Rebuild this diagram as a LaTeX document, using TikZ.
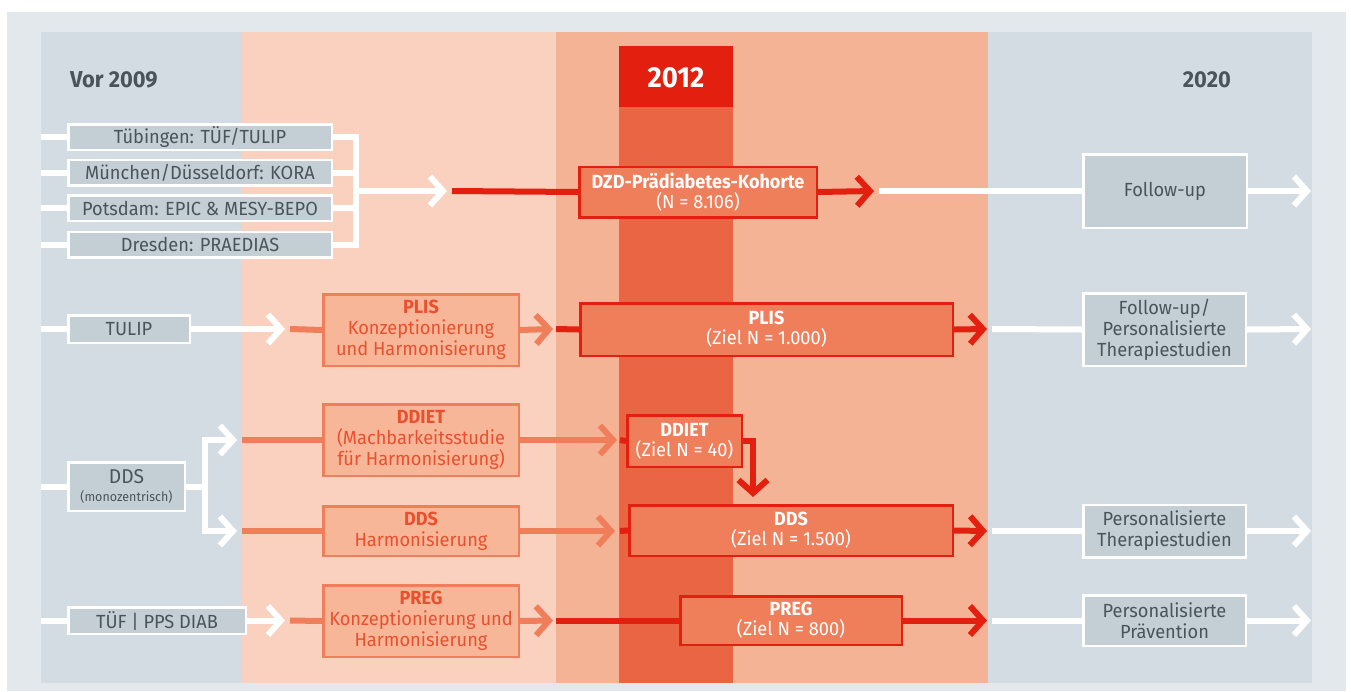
\documentclass[tikz,border=0pt]{standalone}
\usepackage{fontspec}
\setmainfont{Fira Sans}[FakeStretch=0.96, BoldFeatures={FakeStretch=0.95}]
\usetikzlibrary{arrows.meta}
\definecolor{outerbg}{HTML}{E2E8EB}
\definecolor{colgray}{HTML}{D3DCE2}
\definecolor{boxgray}{HTML}{C4CFD5}
\definecolor{txtgray}{HTML}{4B535B}
\definecolor{peachA}{HTML}{FAD1BE}
\definecolor{peachB}{HTML}{F5B396}
\definecolor{darkcol}{HTML}{EA6543}
\definecolor{hred}{HTML}{E3200F}
\definecolor{mainfill}{HTML}{EF7E5A}
\definecolor{prepfill}{HTML}{F8B699}
\definecolor{salmon}{HTML}{F07E5A}
\definecolor{preptext}{HTML}{E9502E}
\begin{document}
\begin{tikzpicture}[x=1pt,y=-1pt,
  every node/.style={font=\fontsize{19}{21}\selectfont, align=center, inner sep=0pt},
  sz/.style 2 args={minimum width=#1*1pt-2.5pt, minimum height=#2*1pt-2.5pt},
  graybox/.style={fill=boxgray, draw=white, line width=2.5pt, text=txtgray},
  prepbox/.style={fill=prepfill, draw=salmon, line width=2.5pt, text=preptext},
  mainbox/.style={fill=mainfill, draw=hred, line width=2.5pt, text=white, font=\fontsize{19}{20}\selectfont},
  chev/.style={-{Straight Barb[length=13pt,width=29pt]}},
  wline/.style={draw=white, line width=6pt},
  rline/.style={draw=hred, line width=6pt},
  sline/.style={draw=salmon, line width=6pt},
  year/.style={font=\fontsize{23}{26}\selectfont\bfseries, text=txtgray},
]
\useasboundingbox (0,0) rectangle (1351,691);
% backgrounds
\fill[white] (0,0) rectangle (1351,691);
\fill[outerbg] (7,12) rectangle (1346,691);
\fill[colgray] (41,32) rectangle (242,683);
\fill[peachA] (242,32) rectangle (556,683);
\fill[peachB] (556,32) rectangle (988,683);
\fill[colgray] (988,32) rectangle (1312,683);
\fill[darkcol] (619,107) rectangle (733,683);
\fill[hred] (619,46) rectangle (733,107);

% titles
\node[year, anchor=base west] (vor) at (70,87) {Vor 2009};
\node[year, anchor=base east] (y2020) at (1231,87) {2020};
\node[font=\fontsize{29}{32}\selectfont\bfseries, text=white] (y2012) at (676,78) {2012};

% row 1 boxes
\node[graybox, sz={266}{28}] (tub) at (200,137) {Tübingen: TÜF/TULIP};
\node[graybox, sz={266}{28}] (mun) at (200,172.5) {München/Düsseldorf: KORA};
\node[graybox, sz={266}{28}] (pot) at (200,208) {Potsdam: EPIC \& MESY-BEPO};
\node[graybox, sz={266}{28}] (dre) at (200,244.5) {Dresden: PRAEDIAS};
\node[mainbox, sz={240}{53}] (dzd) at (698,192) {\textbf{DZD-Prädiabetes-Kohorte}\\(N = 8.106)};
\node[graybox, sz={166}{76}] (fu1) at (1165,191) {Follow-up};

% row 2 boxes
\node[graybox, sz={124}{30}] (tulip) at (129,329) {TULIP};
\node[prepbox, sz={198}{74}] (plisA) at (421,330) {\textbf{PLIS}\\Konzeptionierung\\und Harmonisierung};
\node[mainbox, sz={375}{55}] (plisB) at (766.5,329.5) {\textbf{PLIS}\\(Ziel N = 1.000)};
\node[graybox, sz={165}{75}] (fu2) at (1164.5,329.5) {Follow-up/\\Personalisierte\\Therapiestudien};

% row 3/4 boxes
\node[graybox, sz={119}{51}] (dds0) at (126.5,486.5) {{\fontsize{20}{21}\selectfont DDS}\\[-3pt]{\fontsize{13}{15}\selectfont(monozentrisch)}};
\node[prepbox, sz={198}{74}] (ddietA) at (421,440) {\textbf{DDIET}\\(Machbarkeitsstudie\\für Harmonisierung)};
\node[mainbox, sz={117}{54}] (ddietB) at (684.5,441) {\textbf{DDIET}\\(Ziel N = 40)};
\node[prepbox, sz={198}{52}] (ddsA) at (421,531) {\textbf{DDS}\\Harmonisierung};
\node[mainbox, sz={326}{53}] (ddsB) at (791,530.5) {\textbf{DDS}\\(Ziel N = 1.500)};
\node[graybox, sz={165}{55}] (pt) at (1164.5,531) {Personalisierte\\Therapiestudien};

% row 5 boxes
\node[graybox, sz={180}{29}] (tuef) at (157,620.5) {TÜF | PPS DIAB};
\node[prepbox, sz={198}{74}] (pregA) at (421,621) {\textbf{PREG}\\Konzeptionierung und\\Harmonisierung};
\node[mainbox, sz={224}{51}] (pregB) at (791,620.5) {\textbf{PREG}\\(Ziel N = 800)};
\node[graybox, sz={165}{53}] (pp) at (1164.5,620.5) {Personalisierte\\Prävention};

% coordinates
\coordinate (l1) at (41,137);
\coordinate (l2) at (41,172.5);
\coordinate (l3) at (41,208);
\coordinate (l4) at (41,244.5);
\coordinate (brk) at (356,191);
\coordinate (t1) at (447,191);
\coordinate (s1) at (452,191);
\coordinate (t1b) at (874,191);
\coordinate (s1b) at (879,191);
\coordinate (e1) at (1311,191);

\coordinate (l5) at (41,329);
\coordinate (t2) at (285,329);
\coordinate (s2) at (290,329);
\coordinate (t2b) at (553,329);
\coordinate (s2b) at (556,329);
\coordinate (t2c) at (987,329);
\coordinate (s2c) at (992,329);
\coordinate (e2) at (1311,329);

\coordinate (l6) at (41,486.5);
\coordinate (br2) at (205,486.5);
\coordinate (t3) at (237,440);
\coordinate (s3) at (242,440);
\coordinate (t3b) at (617,440);
\coordinate (s3b) at (620,440);
\coordinate (cr) at (753,441);
\coordinate (t3c) at (753,497);

\coordinate (t4) at (237,531);
\coordinate (s4) at (242,531);
\coordinate (t4b) at (615,531);
\coordinate (s4b) at (620,531);
\coordinate (t4c) at (987,531);
\coordinate (s4c) at (992,531);
\coordinate (e4) at (1311,531);

\coordinate (l7) at (41,620.5);
\coordinate (t5) at (285,620.5);
\coordinate (s5) at (290,620.5);
\coordinate (t5b) at (553,620.5);
\coordinate (s5b) at (556,620.5);
\coordinate (t5c) at (987,620.5);
\coordinate (s5c) at (992,620.5);
\coordinate (e5) at (1311,620.5);

% row 1 connectors
\draw[wline] (l1) -- (tub.west);
\draw[wline] (l2) -- (mun.west);
\draw[wline] (l3) -- (pot.west);
\draw[wline] (l4) -- (dre.west);
\draw[wline] (tub.east) -| (brk);
\draw[wline] (dre.east) -| (brk);
\draw[wline] (mun.east) -- (mun.east -| brk);
\draw[wline] (pot.east) -- (pot.east -| brk);
\draw[wline, chev] (brk) -- (t1);
\draw[rline] (s1) -- (dzd.west);
\draw[rline, chev] (dzd.east) -- (t1b);
\draw[wline] (s1b) -- (fu1.west);
\draw[wline, chev] (fu1.east) -- (e1);

% row 2 connectors
\draw[wline] (l5) -- (tulip.west);
\draw[wline, chev] (tulip.east) -- (t2);
\draw[sline] (s2) -- (plisA.west);
\draw[sline, chev] (plisA.east) -- (t2b);
\draw[rline] (s2b) -- (plisB.west);
\draw[rline, chev] (plisB.east) -- (t2c);
\draw[wline] (s2c) -- (fu2.west);
\draw[wline, chev] (fu2.east) -- (e2);

% DDS monozentrisch branches
\draw[wline] (l6) -- (dds0.west);
\draw[wline, chev] (dds0.east) -- (br2) |- (t3);
\draw[wline, chev] (dds0.east) -- (br2) |- (t4);
\draw[sline] (s3) -- (ddietA.west);
\draw[sline, chev] (ddietA.east) -- (t3b);
\draw[rline] (s3b) -- (ddietB.west);
\draw[rline, chev] (ddietB.east) -- (cr) -- (t3c);
\draw[sline] (s4) -- (ddsA.west);
\draw[sline, chev] (ddsA.east) -- (t4b);
\draw[rline] (s4b) -- (ddsB.west);
\draw[rline, chev] (ddsB.east) -- (t4c);
\draw[wline] (s4c) -- (pt.west);
\draw[wline, chev] (pt.east) -- (e4);

% row 5 connectors
\draw[wline] (l7) -- (tuef.west);
\draw[wline, chev] (tuef.east) -- (t5);
\draw[sline] (s5) -- (pregA.west);
\draw[sline, chev] (pregA.east) -- (t5b);
\draw[rline] (s5b) -- (pregB.west);
\draw[rline, chev] (pregB.east) -- (t5c);
\draw[wline] (s5c) -- (pp.west);
\draw[wline, chev] (pp.east) -- (e5);
\end{tikzpicture}
\end{document}
